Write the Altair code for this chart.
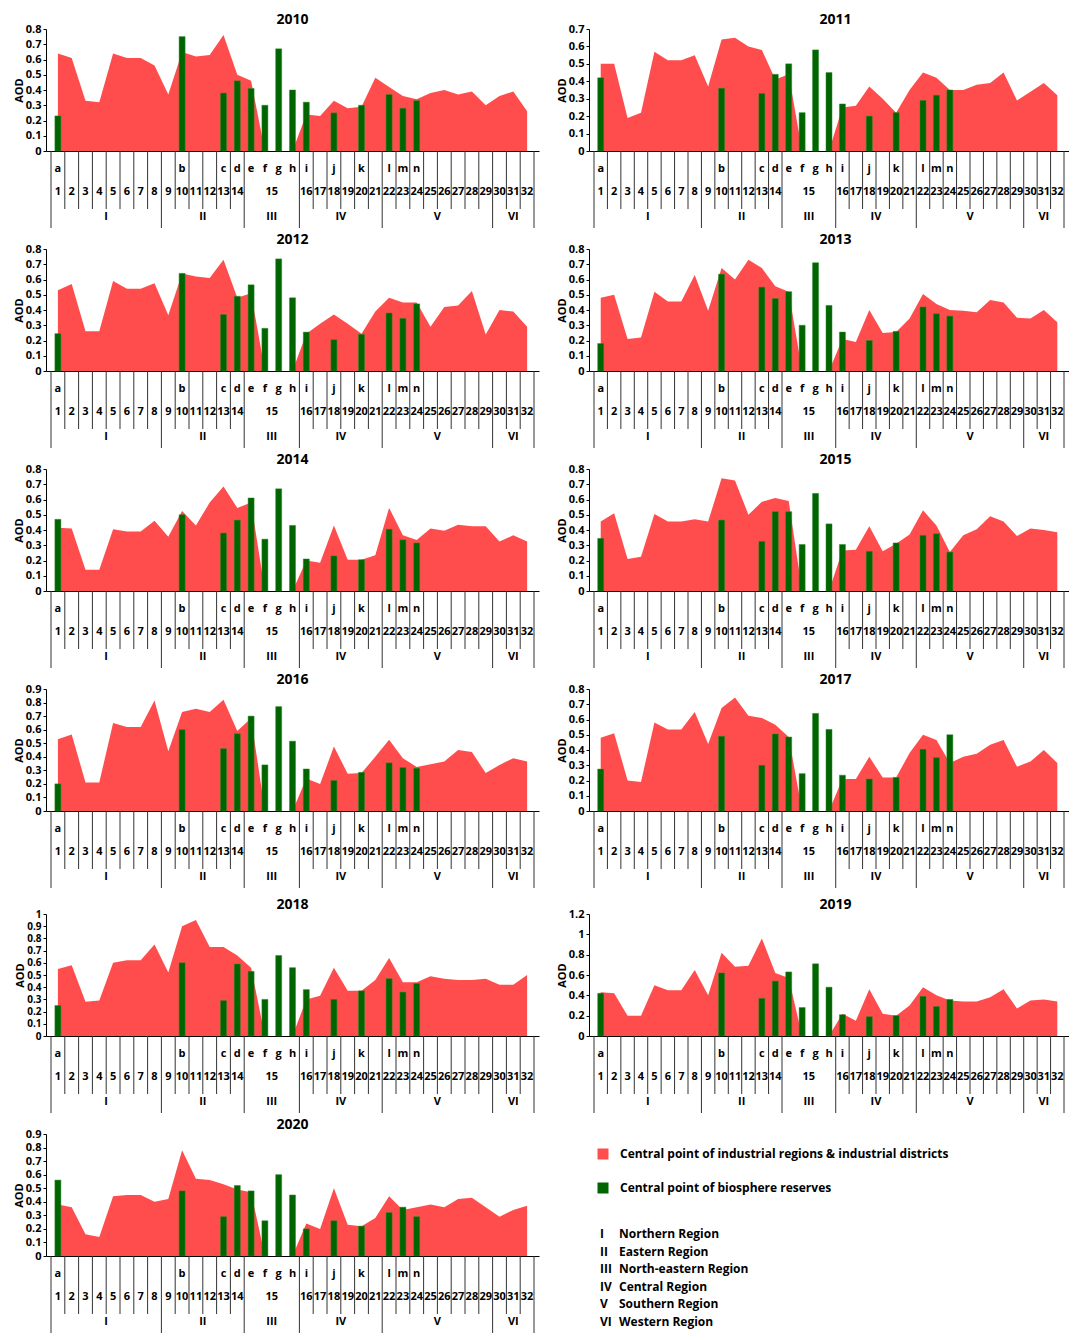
import altair as alt
import pandas as pd

RED = "#FF4D4D"
GREEN = "#006400"
FONT = "Open Sans"

# ---- x categories (35 slots) ----
slot_numbers = [str(n) for n in range(1, 15)] + ["15"] * 4 + [str(n) for n in range(16, 33)]
slot_letters = ["a", "", "", "", "", "", "", "", "", "b", "", "", "c", "d", "e", "f", "g", "h",
                "i", "", "j", "", "k", "", "l", "m", "n"] + [""] * 8
slot_regions = ["I"] * 8 + ["II"] * 6 + ["III"] * 4 + ["IV"] * 6 + ["V"] * 8 + ["VI"] * 3
bar_letters = ["a", "b", "c", "d", "e", "f", "g", "h", "i", "j", "k", "l", "m", "n"]

years = [2010, 2011, 2012, 2013, 2014, 2015, 2016, 2017, 2018, 2019, 2020]
y_max = {2010: 0.8, 2011: 0.7, 2012: 0.8, 2013: 0.8, 2014: 0.8, 2015: 0.8,
         2016: 0.9, 2017: 0.8, 2018: 1.0, 2019: 1.2, 2020: 0.9}
y_step = {2019: 0.2}

# ---- industrial (area) values, one per slot ----
area_2010 = [0.64, 0.61, 0.33, 0.32, 0.64, 0.61, 0.61, 0.56, 0.37, 0.65, 0.62, 0.63, 0.76, 0.50, 0.46, 0, 0, 0,
             0.24, 0.23, 0.33, 0.28, 0.29, 0.48, 0.42, 0.36, 0.34, 0.38, 0.40, 0.37, 0.39, 0.30, 0.36, 0.39, 0.26]
area_2011 = [0.50, 0.50, 0.19, 0.22, 0.57, 0.52, 0.52, 0.55, 0.37, 0.64, 0.65, 0.60, 0.58, 0.41, 0.44, 0, 0, 0,
             0.25, 0.26, 0.37, 0.30, 0.22, 0.35, 0.45, 0.42, 0.35, 0.35, 0.38, 0.39, 0.45, 0.29, 0.34, 0.39, 0.32]
area_2012 = [0.53, 0.57, 0.26, 0.26, 0.59, 0.54, 0.54, 0.575, 0.365, 0.64, 0.62, 0.61, 0.73, 0.48, 0.51, 0, 0, 0,
             0.245, 0.31, 0.37, 0.31, 0.245, 0.39, 0.48, 0.45, 0.45, 0.29, 0.42, 0.43, 0.525, 0.24, 0.40, 0.39, 0.29]
area_2013 = [0.48, 0.50, 0.21, 0.22, 0.52, 0.455, 0.455, 0.63, 0.395, 0.675, 0.60, 0.73, 0.675, 0.555, 0.52, 0, 0, 0,
             0.21, 0.19, 0.40, 0.25, 0.255, 0.345, 0.505, 0.44, 0.40, 0.395, 0.385, 0.465, 0.45, 0.35, 0.345, 0.40, 0.32]
area_2014 = [0.415, 0.41, 0.14, 0.14, 0.405, 0.39, 0.39, 0.46, 0.355, 0.525, 0.43, 0.58, 0.685, 0.545, 0.58, 0, 0, 0,
             0.20, 0.185, 0.43, 0.205, 0.205, 0.235, 0.545, 0.365, 0.335, 0.41, 0.395, 0.435, 0.425, 0.425, 0.325, 0.365, 0.325]
area_2015 = [0.455, 0.51, 0.21, 0.225, 0.505, 0.455, 0.455, 0.47, 0.455, 0.74, 0.725, 0.50, 0.585, 0.61, 0.59, 0, 0, 0,
             0.265, 0.27, 0.425, 0.26, 0.31, 0.37, 0.53, 0.43, 0.255, 0.365, 0.405, 0.49, 0.455, 0.36, 0.41, 0.40, 0.385]
area_2016 = [0.53, 0.565, 0.21, 0.21, 0.65, 0.62, 0.62, 0.815, 0.44, 0.73, 0.755, 0.73, 0.82, 0.59, 0.685, 0, 0, 0,
             0.24, 0.20, 0.475, 0.275, 0.28, 0.40, 0.525, 0.39, 0.325, 0.345, 0.365, 0.45, 0.435, 0.28, 0.34, 0.39, 0.365]
area_2017 = [0.48, 0.51, 0.20, 0.19, 0.58, 0.535, 0.535, 0.65, 0.44, 0.675, 0.745, 0.625, 0.61, 0.565, 0.485, 0, 0, 0,
             0.21, 0.21, 0.355, 0.22, 0.22, 0.38, 0.50, 0.465, 0.315, 0.355, 0.375, 0.435, 0.465, 0.29, 0.325, 0.40, 0.315]
area_2018 = [0.55, 0.58, 0.28, 0.29, 0.60, 0.62, 0.62, 0.75, 0.52, 0.90, 0.95, 0.73, 0.73, 0.66, 0.56, 0, 0, 0,
             0.30, 0.33, 0.56, 0.37, 0.37, 0.46, 0.64, 0.44, 0.44, 0.49, 0.47, 0.46, 0.46, 0.47, 0.42, 0.42, 0.50]
area_2019 = [0.43, 0.42, 0.20, 0.20, 0.50, 0.45, 0.45, 0.65, 0.40, 0.82, 0.68, 0.69, 0.96, 0.62, 0.57, 0, 0, 0,
             0.22, 0.15, 0.46, 0.22, 0.20, 0.30, 0.48, 0.40, 0.35, 0.34, 0.34, 0.38, 0.46, 0.27, 0.35, 0.36, 0.34]
area_2020 = [0.38, 0.36, 0.16, 0.14, 0.44, 0.45, 0.45, 0.40, 0.42, 0.78, 0.57, 0.56, 0.53, 0.49, 0.47, 0, 0, 0,
             0.24, 0.20, 0.50, 0.23, 0.22, 0.28, 0.44, 0.34, 0.36, 0.38, 0.36, 0.42, 0.43, 0.36, 0.29, 0.34, 0.37]

# ---- biosphere reserve (bar) values, letters a..n ----
bars_2010 = [0.23, 0.75, 0.38, 0.46, 0.41, 0.30, 0.67, 0.40, 0.32, 0.25, 0.30, 0.37, 0.28, 0.33]
bars_2011 = [0.42, 0.36, 0.33, 0.44, 0.50, 0.22, 0.58, 0.45, 0.27, 0.20, 0.22, 0.29, 0.32, 0.35]
bars_2012 = [0.245, 0.64, 0.37, 0.49, 0.565, 0.28, 0.735, 0.48, 0.255, 0.205, 0.24, 0.38, 0.345, 0.44]
bars_2013 = [0.18, 0.635, 0.55, 0.475, 0.52, 0.30, 0.71, 0.43, 0.255, 0.20, 0.26, 0.42, 0.375, 0.36]
bars_2014 = [0.47, 0.50, 0.38, 0.465, 0.61, 0.34, 0.67, 0.43, 0.21, 0.23, 0.205, 0.405, 0.335, 0.315]
bars_2015 = [0.345, 0.465, 0.325, 0.52, 0.52, 0.305, 0.64, 0.44, 0.305, 0.26, 0.315, 0.365, 0.375, 0.255]
bars_2016 = [0.20, 0.60, 0.46, 0.57, 0.70, 0.34, 0.77, 0.515, 0.31, 0.225, 0.285, 0.355, 0.32, 0.315]
bars_2017 = [0.275, 0.49, 0.30, 0.505, 0.485, 0.245, 0.64, 0.535, 0.235, 0.21, 0.22, 0.405, 0.35, 0.50]
bars_2018 = [0.25, 0.60, 0.29, 0.59, 0.53, 0.30, 0.66, 0.56, 0.38, 0.30, 0.37, 0.47, 0.36, 0.43]
bars_2019 = [0.42, 0.62, 0.37, 0.54, 0.63, 0.28, 0.71, 0.48, 0.21, 0.19, 0.20, 0.39, 0.29, 0.36]
bars_2020 = [0.56, 0.48, 0.29, 0.52, 0.48, 0.26, 0.60, 0.45, 0.20, 0.26, 0.22, 0.32, 0.36, 0.29]

area_by_year = {2010: area_2010, 2011: area_2011, 2012: area_2012, 2013: area_2013, 2014: area_2014,
                2015: area_2015, 2016: area_2016, 2017: area_2017, 2018: area_2018, 2019: area_2019,
                2020: area_2020}
bars_by_year = {2010: bars_2010, 2011: bars_2011, 2012: bars_2012, 2013: bars_2013, 2014: bars_2014,
                2015: bars_2015, 2016: bars_2016, 2017: bars_2017, 2018: bars_2018, 2019: bars_2019,
                2020: bars_2020}

series_names = ["Central point of industrial regions & industrial districts",
                "Central point of biosphere reserves"]
region_numerals = ["I", "II", "III", "IV", "V", "VI"]
region_names = ["Northern Region", "Eastern Region", "North-eastern Region",
                "Central Region", "Southern Region", "Western Region"]

# ---- derived tables ----
slots = pd.DataFrame({"slot": range(1, 36), "number": slot_numbers,
                      "letter": slot_letters, "region": slot_regions})
letters_df = slots[slots["letter"] != ""][["slot", "letter"]]
letter_slot = dict(zip(letters_df["letter"], letters_df["slot"]))
numbers_df = slots.groupby("number", sort=False)["slot"].mean().reset_index()
regions_df = slots.groupby("region", sort=False)["slot"].mean().reset_index()

full_b, minor_b = [], []
for k in range(0, 36):
    pos = k + 0.5
    if k == 0 or k == 35 or slot_regions[k - 1] != slot_regions[k]:
        full_b.append(pos)
    elif slot_numbers[k - 1] != slot_numbers[k]:
        minor_b.append(pos)
full_df = pd.DataFrame({"slot": full_b})
minor_df = pd.DataFrame({"slot": minor_b})

W_LEFT, W_RIGHT, H = 493, 480, 122
Y_LET, Y_NUM, Y_REG = H + 18, H + 41, H + 66
Y_MINOR, Y_FULL = H + 58, H + 77
LINE = "#333333"


def panel(year, width):
    ymax = y_max[year]
    step = y_step.get(year, 0.1)
    n_ticks = int(round(ymax / step)) + 1
    ticks = [round(i * step, 2) for i in range(n_ticks)]
    xs = alt.Scale(domain=[0.5, 35.5], nice=False, zero=False)
    xenc = alt.X("slot:Q", scale=xs,
                 axis=alt.Axis(title=None, labels=False, ticks=False, grid=False,
                               domain=True, domainColor="black", domainWidth=1))
    yenc = alt.Y("aod:Q", scale=alt.Scale(domain=[0, ymax], nice=False),
                 axis=alt.Axis(title="AOD", values=ticks, format=".1~f", grid=False,
                               domainColor="black", tickColor="black", tickSize=3,
                               labelPadding=2, titlePadding=1,
                               labelFontSize=10 if n_ticks > 10 else 11))
    adf = pd.DataFrame({"slot": range(1, 36), "aod": area_by_year[year]})
    bdf = pd.DataFrame({"slot": [letter_slot[l] for l in bar_letters], "aod": bars_by_year[year]})
    tdf = pd.DataFrame({"t": [str(year)]})

    area = alt.Chart(adf).mark_area(color=RED, interpolate="linear").encode(x=xenc, y=yenc)
    bars = alt.Chart(bdf).mark_bar(width=6, color=GREEN, stroke="#2a8a2a",
                                   strokeWidth=0.5).encode(x=xenc, y=yenc)
    txt = dict(font=FONT, fontWeight="bold", fontSize=11, color="black", baseline="middle")
    let = alt.Chart(letters_df).mark_text(**txt).encode(x=xenc, y=alt.value(Y_LET), text="letter:N")
    num = alt.Chart(numbers_df).mark_text(**txt).encode(x=xenc, y=alt.value(Y_NUM), text="number:N")
    reg = alt.Chart(regions_df).mark_text(**txt).encode(x=xenc, y=alt.value(Y_REG), text="region:N")
    r_minor = alt.Chart(minor_df).mark_rule(color=LINE, strokeWidth=1).encode(
        x=xenc, y=alt.value(H), y2=alt.value(Y_MINOR))
    r_full = alt.Chart(full_df).mark_rule(color=LINE, strokeWidth=1).encode(
        x=xenc, y=alt.value(H), y2=alt.value(Y_FULL))
    title = alt.Chart(tdf).mark_text(font=FONT, fontWeight="bold", fontSize=14, color="black",
                                     baseline="middle", align="center").encode(
        x=alt.value(W_LEFT / 2), y=alt.value(-9), text="t:N")

    return alt.layer(area, bars, r_minor, r_full, let, num, reg, title).properties(
        width=width, height=H)


def legend_panel():
    sdf = pd.DataFrame({"series": series_names})
    rdf = pd.DataFrame({"num": region_numerals, "name": region_names})
    sy = alt.Y("series:N", scale=alt.Scale(type="point", domain=series_names, range=[20, 54], padding=0),
               axis=None)
    ry = alt.Y("num:N", scale=alt.Scale(type="point", domain=region_numerals, range=[100, 188], padding=0),
               axis=None)
    sq = alt.Chart(sdf).mark_square(size=121, opacity=1).encode(
        x=alt.value(14), y=sy,
        color=alt.Color("series:N", scale=alt.Scale(domain=series_names, range=[RED, GREEN]), legend=None))
    txt = dict(font=FONT, fontWeight="bold", fontSize=12, color="black", baseline="middle", align="left")
    st = alt.Chart(sdf).mark_text(**txt).encode(x=alt.value(31), y=sy, text="series:N")
    rn = alt.Chart(rdf).mark_text(**txt).encode(x=alt.value(11), y=ry, text="num:N")
    rname = alt.Chart(rdf).mark_text(**txt).encode(x=alt.value(30), y=ry, text="name:N")
    return alt.layer(sq, st, rn, rname).resolve_scale(y="independent").properties(width=W_RIGHT, height=H)


cells = []
for i, yr in enumerate(years):
    cells.append(panel(yr, W_LEFT if i % 2 == 0 else W_RIGHT))
cells.append(legend_panel())

grid = {"row": 98, "column": 50}
block_top = alt.concat(*cells[:8], columns=2, spacing=grid, bounds="flush")
block_bottom = alt.concat(*cells[8:], columns=2, spacing=grid, bounds="flush")

chart = alt.vconcat(block_top, block_bottom, spacing=9).properties(
    padding={"left": 5, "top": 5, "right": 0, "bottom": 0}
).configure_view(
    stroke=None
).configure_axis(
    labelFont=FONT, titleFont=FONT, labelFontWeight="bold", titleFontWeight="bold",
    labelFontSize=11, titleFontSize=11, labelColor="black", titleColor="black"
)

chart.save("out.html", embed_options={"renderer": "svg", "actions": False})
